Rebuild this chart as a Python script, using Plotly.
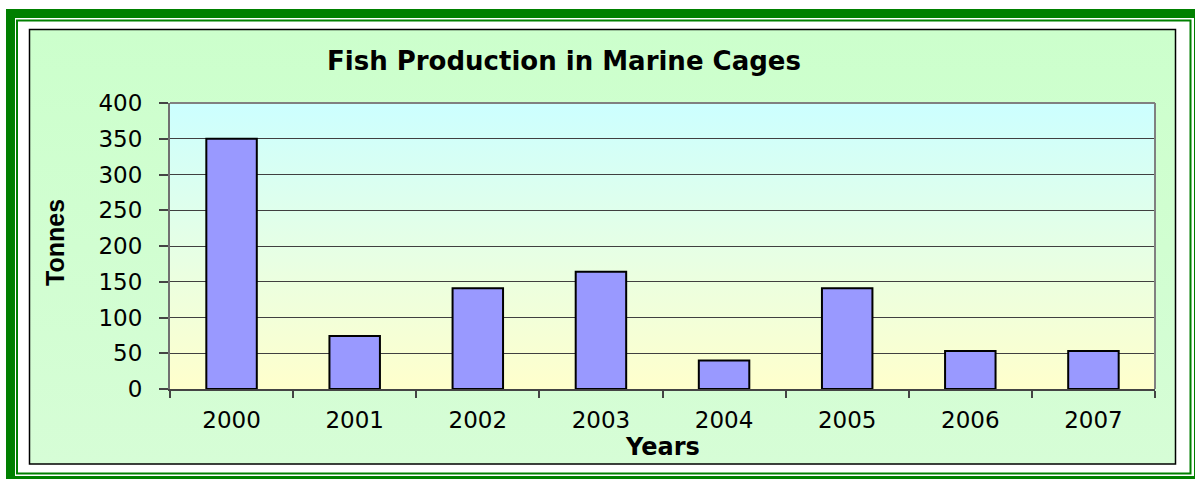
import base64
import plotly.graph_objects as go

# ---- data ----
years = ["2000", "2001", "2002", "2003", "2004", "2005", "2006", "2007"]
tonnes = [350, 74, 141, 164, 40, 141, 53, 53]
y_ticks = [0, 50, 100, 150, 200, 250, 300, 350, 400]
title_text = "Fish Production in Marine Cages"
x_title = "Years"
y_title = "Tonnes"

# ---- geometry helpers (plot area in pixels: x 170..1155, y 103..389) ----
W, H = 1195, 479
PL, PR, PT, PB = 170, 1155, 103, 389


def px(x):
    return (x - PL) / (PR - PL)


def py(y):
    return (PB - y) / (PB - PT)


def grad_svg(top, bottom):
    svg = (
        '<svg xmlns="http://www.w3.org/2000/svg" width="100" height="100" '
        'viewBox="0 0 100 100" preserveAspectRatio="none">'
        '<defs><linearGradient id="g" x1="0" y1="0" x2="0" y2="1">'
        f'<stop offset="0" stop-color="{top}"/>'
        f'<stop offset="1" stop-color="{bottom}"/>'
        '</linearGradient></defs>'
        '<rect x="0" y="0" width="100" height="100" fill="url(#g)"/></svg>'
    )
    return "data:image/svg+xml;base64," + base64.b64encode(svg.encode()).decode()


fig = go.Figure(
    go.Bar(
        x=years,
        y=tonnes,
        marker=dict(color="#9999FF", line=dict(color="black", width=2)),
        hovertemplate="%{x}: %{y} t<extra></extra>",
    )
)

fig.update_layout(
    width=W,
    height=H,
    margin=dict(l=PL, r=W - PR, t=PT, b=H - PB, autoexpand=False),
    paper_bgcolor="white",
    plot_bgcolor="rgba(0,0,0,0)",
    bargap=0.59,
    showlegend=False,
    font=dict(family="DejaVu Sans", size=23, color="black"),
    images=[
        dict(
            source=grad_svg("#CCFFCC", "#D6FDD6"),
            xref="paper", yref="paper",
            x=px(29), y=py(29),
            sizex=(1175 - 29) / (PR - PL), sizey=(464 - 29) / (PB - PT),
            xanchor="left", yanchor="top",
            sizing="stretch", layer="below",
        ),
        dict(
            source=grad_svg("#CCFFFF", "#FFFFCC"),
            xref="paper", yref="paper",
            x=0, y=1, sizex=1, sizey=1,
            xanchor="left", yanchor="top",
            sizing="stretch", layer="below",
        ),
    ],
    shapes=[
        # outer thick green frame
        dict(type="rect", xref="paper", yref="paper",
             x0=px(10.5), x1=px(1198.5), y0=py(480.5), y1=py(13.5),
             line=dict(color="#008000", width=9), layer="below"),
        # inner thin green frame
        dict(type="rect", xref="paper", yref="paper",
             x0=px(17), x1=px(1190.5), y0=py(473.5), y1=py(20.5),
             line=dict(color="#008000", width=2), layer="below"),
        # chart area border
        dict(type="rect", xref="paper", yref="paper",
             x0=px(29.5), x1=px(1175.5), y0=py(464), y1=py(29.5),
             line=dict(color="black", width=1.5), layer="below"),
        # plot area top/right border
        dict(type="line", xref="paper", yref="paper", x0=0, x1=1, y0=1, y1=1,
             line=dict(color="#808080", width=2), layer="above"),
        dict(type="line", xref="paper", yref="paper", x0=1, x1=1, y0=0, y1=1,
             line=dict(color="#808080", width=2), layer="above"),
    ],
    annotations=[
        dict(text=title_text, xref="paper", yref="paper",
             x=px(564), y=py(61), xanchor="center", yanchor="middle",
             showarrow=False,
             font=dict(family="DejaVu Sans", size=26, weight="bold", color="black")),
        dict(text=x_title, xref="paper", yref="paper",
             x=0.5, y=py(447), xanchor="center", yanchor="middle",
             showarrow=False,
             font=dict(family="DejaVu Sans", size=24, weight="bold", color="black")),
        dict(text=y_title, xref="paper", yref="paper",
             x=px(55), y=py(243), xanchor="center", yanchor="middle",
             textangle=-90, showarrow=False,
             font=dict(family="Liberation Sans", size=25, weight="bold", color="black")),
    ],
)

fig.update_xaxes(
    type="category",
    showline=True, linecolor="#444444", linewidth=1.5,
    ticks="outside", ticklen=7, tickcolor="#444444", tickwidth=1.5,
    tickson="boundaries",
    showgrid=False,
    ticklabelstandoff=10,
    tickfont=dict(family="DejaVu Sans", size=23, color="black"),
)
fig.update_yaxes(
    range=[0, 400],
    tickvals=y_ticks,
    showline=True, linecolor="#707070", linewidth=2,
    ticks="outside", ticklen=9, tickcolor="#444444", tickwidth=1.5,
    showgrid=True, gridcolor="#404040", gridwidth=1,
    zeroline=False,
    ticklabelstandoff=12,
    tickfont=dict(family="DejaVu Sans", size=23, color="black"),
)

fig.write_html(
    "out.html",
    config={"displayModeBar": False},
    post_script="document.body.style.margin='0';document.body.style.overflow='hidden';",
)
